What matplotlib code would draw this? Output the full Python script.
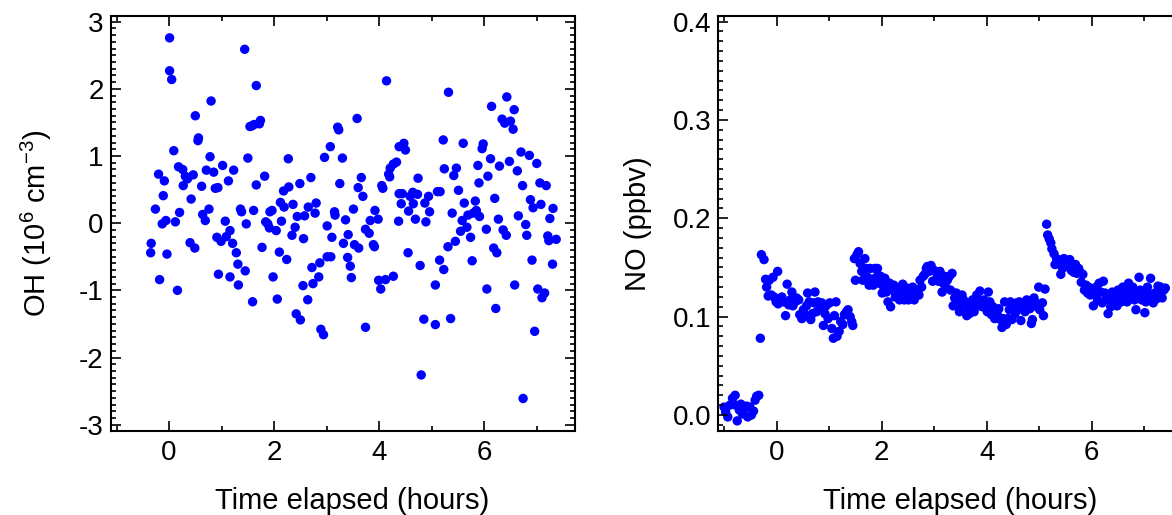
import numpy as np
import matplotlib
matplotlib.use("Agg")
import matplotlib.pyplot as plt
from matplotlib.ticker import MultipleLocator, FormatStrFormatter

plt.rcParams['font.family'] = ['Liberation Sans', 'DejaVu Sans']
plt.rcParams['mathtext.fontset'] = 'custom'
plt.rcParams['mathtext.rm'] = 'Liberation Sans'
plt.rcParams['axes.unicode_minus'] = False

# OH concentration (10^6 cm^-3) vs time elapsed (hours)
oh_time = [-0.34, -0.35, -0.26, -0.20, -0.18, -0.13, -0.11, -0.09, -0.06, -0.04,
           0.01, 0.01, 0.05, 0.09, 0.12, 0.16, 0.18, 0.20, 0.26, 0.27,
           0.31, 0.35, 0.40, 0.42, 0.46, 0.49, 0.50, 0.55, 0.56, 0.62,
           0.64, 0.69, 0.71, 0.76, 0.78, 0.80, 0.85, 0.88, 0.93, 0.91,
           0.94, 0.99, 1.02, 1.07, 1.09, 1.13, 1.16, 1.16, 1.21, 1.23,
           1.28, 1.31, 1.32, 1.36, 1.38, 1.44, 1.45, 1.47, 1.50, 1.54,
           1.58, 1.59, 1.61, 1.62, 1.66, 1.66, 1.72, 1.74, 1.77, 1.82,
           1.84, 1.88, 1.91, 1.92, 1.96, 1.98, 2.04, 2.06, 2.10, 2.12,
           2.14, 2.18, 2.19, 2.24, 2.27, 2.28, 2.34, 2.36, 2.40, 2.42,
           2.44, 2.50, 2.49, 2.56, 2.55, 2.58, 2.64, 2.65, 2.70, 2.72,
           2.74, 2.78, 2.80, 2.85, 2.87, 2.89, 2.94, 2.96, 3.01, 3.01,
           3.07, 3.08, 3.10, 3.15, 3.16, 3.21, 3.23, 3.25, 3.30, 3.32,
           3.36, 3.40, 3.41, 3.45, 3.47, 3.51, 3.53, 3.58, 3.60, 3.61,
           3.66, 3.69, 3.74, 3.74, 3.81, 3.83, 3.89, 3.91, 3.92, 3.98,
           3.99, 4.03, 4.05, 4.07, 4.12, 4.14, 4.18, 4.20, 4.21, 4.27,
           4.27, 4.33, 4.37, 4.38, 4.42, 4.38, 4.44, 4.47, 4.50, 4.55,
           4.56, 4.59, 4.64, 4.65, 4.69, 4.73, 4.74, 4.78, 4.80, 4.85,
           4.87, 4.89, 4.94, 4.96, 5.07, 5.07, 5.11, 5.16, 5.15, 5.22,
           5.24, 5.23, 5.31, 5.32, 5.36, 5.39, 5.42, 5.45, 5.47, 5.51,
           5.55, 5.58, 5.60, 5.62, 5.67, 5.69, 5.74, 5.77, 5.79, 5.83,
           5.85, 5.88, 5.90, 5.91, 5.96, 5.98, 6.04, 6.05, 6.07, 6.12,
           6.14, 6.18, 6.20, 6.22, 6.24, 6.27, 6.29, 6.34, 6.36, 6.39,
           6.42, 6.43, 6.48, 6.50, 6.55, 6.57, 6.58, 6.63, 6.65, 6.70,
           6.73, 6.74, 6.79, 6.81, 6.86, 6.88, 6.91, 6.93, 6.96, 7.00,
           7.02, 7.06, 7.08, 7.10, 7.15, 7.18, 7.21, 7.23, 7.25, 7.30,
           7.31, 7.37]
oh_conc = [-0.30, -0.44, 0.21, 0.73, -0.84, -0.01, 0.41, 0.63, 0.04, -0.46,
           2.76, 2.27, 2.14, 1.08, 0.02, -1.00, 0.84, 0.16, 0.80, 0.56,
           0.70, 0.66, -0.29, 0.36, 0.72, -0.37, 1.60, 1.23, 1.27, 0.55,
           0.13, 0.04, 0.79, 0.21, 0.99, 1.82, 0.76, 0.52, 0.53, -0.21,
           -0.76, -0.27, 0.86, 0.03, -0.20, 0.63, -0.11, -0.80, -0.30, 0.79,
           -0.44, -0.61, -0.92, 0.21, 0.17, 2.59, -0.71, -0.01, 0.97, 1.44,
           1.45, -1.17, 0.19, 1.47, 2.05, 0.57, 1.48, 1.53, -0.36, 0.70,
           0.02, -0.01, -0.07, 0.17, 0.19, -0.80, -0.11, -1.13, -0.43, 0.31,
           0.03, 0.48, 0.24, -0.54, 0.96, 0.54, -0.18, 0.28, -0.06, -1.35,
           0.10, -1.44, 0.59, -0.23, -0.93, 0.11, -1.14, 0.24, 0.68, -0.66,
           -0.90, 0.15, 0.30, -0.80, -0.59, -1.58, -1.66, 0.98, -0.04, -0.50,
           1.14, -0.50, -0.21, 0.17, 0.12, 1.43, 1.39, 0.59, 0.97, -0.30,
           0.05, -0.51, -0.17, -0.64, -0.81, 0.21, -0.32, 1.56, 0.53, -0.37,
           0.68, 0.40, -1.55, -0.09, -0.15, 0.04, -0.32, -0.35, 0.19, 0.06,
           -0.85, -0.98, 0.56, 0.52, -0.84, 2.12, 0.73, 0.69, 0.82, -0.79,
           0.88, 0.91, 0.03, 0.44, 0.29, 1.14, 0.44, 1.19, 1.09, -0.44,
           0.18, 0.40, 0.46, 0.29, 0.06, 0.43, 0.67, -0.63, -2.26, -1.43,
           0.30, 0.02, 0.40, 0.17, -0.92, -1.51, 0.47, 0.47, -0.55, 1.24,
           0.81, -0.69, -0.35, 1.95, -1.42, 0.15, 0.71, -0.27, 0.82, 0.49,
           -0.12, 0.04, 1.19, 0.30, -0.06, 0.12, -0.21, -0.56, 0.15, 0.33,
           0.19, 0.86, 0.60, 0.10, 1.11, 1.18, -0.09, -0.98, 0.70, 0.96,
           1.74, -0.37, 0.37, -1.27, -0.44, 0.06, 0.85, 1.55, -0.10, 1.49,
           -0.18, 1.88, 0.92, 1.52, 1.40, 1.69, -0.92, 0.78, 0.11, 1.06,
           0.56, -2.61, -0.02, -0.18, 1.01, 0.35, -0.55, 0.23, -1.61, 0.89,
           -0.98, 0.60, 0.28, -1.11, -1.04, 0.56, -0.19, -0.26, 0.07, -0.61,
           0.22, -0.24]

# NO mixing ratio (ppbv) vs time elapsed (hours)
no_time = [-1.00, -0.97, -0.93, -0.89, -0.84, -0.79, -0.78, -0.75, -0.71, -0.68,
           -0.65, -0.61, -0.57, -0.55, -0.51, -0.48, -0.44, -0.41, -0.38, -0.34,
           -0.31, -0.29, -0.24, -0.21, -0.19, -0.16, -0.14, -0.10, -0.07, -0.05,
           -0.01, 0.02, 0.03, 0.07, 0.10, 0.13, 0.17, 0.20, 0.23, 0.26,
           0.29, 0.31, 0.35, 0.38, 0.42, 0.44, 0.48, 0.51, 0.54, 0.57,
           0.59, 0.62, 0.65, 0.68, 0.71, 0.73, 0.76, 0.79, 0.83, 0.86,
           0.89, 0.92, 0.94, 0.98, 1.01, 1.05, 1.08, 1.10, 1.13, 1.15,
           1.19, 1.22, 1.26, 1.29, 1.33, 1.36, 1.40, 1.43, 1.45, 1.48,
           1.50, 1.53, 1.56, 1.59, 1.62, 1.64, 1.68, 1.70, 1.73, 1.76,
           1.78, 1.81, 1.84, 1.87, 1.90, 1.92, 1.95, 1.98, 2.01, 2.03,
           2.06, 2.09, 2.12, 2.15, 2.17, 2.20, 2.23, 2.26, 2.29, 2.31,
           2.34, 2.37, 2.40, 2.43, 2.45, 2.48, 2.51, 2.54, 2.57, 2.59,
           2.62, 2.65, 2.68, 2.71, 2.73, 2.76, 2.79, 2.82, 2.85, 2.87,
           2.90, 2.94, 2.97, 3.00, 3.03, 3.06, 3.08, 3.11, 3.15, 3.17,
           3.20, 3.22, 3.25, 3.29, 3.31, 3.34, 3.36, 3.39, 3.42, 3.45,
           3.48, 3.50, 3.53, 3.56, 3.59, 3.62, 3.64, 3.67, 3.70, 3.73,
           3.76, 3.78, 3.81, 3.84, 3.87, 3.90, 3.92, 3.95, 3.98, 4.01,
           4.03, 4.06, 4.09, 4.12, 4.15, 4.17, 4.20, 4.23, 4.26, 4.29,
           4.31, 4.34, 4.37, 4.40, 4.43, 4.45, 4.48, 4.51, 4.54, 4.57,
           4.59, 4.62, 4.65, 4.68, 4.71, 4.73, 4.76, 4.79, 4.82, 4.85,
           4.87, 4.90, 4.93, 4.96, 4.99, 5.01, 5.06, 5.08, 5.11, 5.14,
           5.16, 5.19, 5.22, 5.24, 5.28, 5.30, 5.33, 5.36, 5.38, 5.41,
           5.44, 5.47, 5.50, 5.52, 5.55, 5.58, 5.61, 5.64, 5.66, 5.69,
           5.72, 5.75, 5.78, 5.80, 5.83, 5.86, 5.89, 5.92, 5.94, 5.97,
           6.00, 6.03, 6.06, 6.08, 6.11, 6.14, 6.17, 6.20, 6.22, 6.25,
           6.28, 6.31, 6.34, 6.36, 6.39, 6.42, 6.45, 6.48, 6.50, 6.53,
           6.56, 6.59, 6.62, 6.64, 6.67, 6.70, 6.73, 6.76, 6.78, 6.81,
           6.84, 6.87, 6.90, 6.92, 6.95, 6.98, 7.01, 7.03, 7.06, 7.09,
           7.12, 7.15, 7.17, 7.20, 7.23, 7.26, 7.29, 7.31, 7.34, 7.37,
           7.40]
no_mix = [0.008, 0.003, -0.002, 0.010, 0.017, 0.020, 0.010, -0.006, 0.005, 0.011,
          0.001, 0.007, 0.009, -0.002, 0.008, 0.000, 0.004, 0.015, 0.019, 0.020,
          0.078, 0.163, 0.158, 0.138, 0.130, 0.121, 0.137, 0.122, 0.140, 0.120,
          0.115, 0.146, 0.113, 0.118, 0.120, 0.115, 0.101, 0.133, 0.112, 0.117,
          0.125, 0.111, 0.115, 0.119, 0.117, 0.102, 0.098, 0.107, 0.102, 0.111,
          0.124, 0.115, 0.097, 0.103, 0.114, 0.125, 0.105, 0.115, 0.108, 0.114,
          0.091, 0.103, 0.111, 0.098, 0.114, 0.088, 0.078, 0.101, 0.115, 0.080,
          0.085, 0.095, 0.092, 0.102, 0.105, 0.107, 0.100, 0.095, 0.091, 0.159,
          0.137, 0.163, 0.166, 0.154, 0.146, 0.137, 0.159, 0.149, 0.140, 0.132,
          0.149, 0.138, 0.132, 0.149, 0.140, 0.149, 0.134, 0.141, 0.124, 0.131,
          0.139, 0.125, 0.115, 0.134, 0.110, 0.127, 0.132, 0.120, 0.124, 0.128,
          0.117, 0.126, 0.133, 0.117, 0.124, 0.129, 0.117, 0.124, 0.122, 0.130,
          0.117, 0.124, 0.127, 0.122, 0.137, 0.130, 0.141, 0.143, 0.149, 0.151,
          0.146, 0.152, 0.136, 0.147, 0.137, 0.142, 0.136, 0.146, 0.125, 0.134,
          0.141, 0.130, 0.137, 0.141, 0.127, 0.144, 0.111, 0.119, 0.124, 0.115,
          0.105, 0.112, 0.122, 0.117, 0.112, 0.101, 0.108, 0.103, 0.112, 0.117,
          0.105, 0.113, 0.122, 0.111, 0.126, 0.115, 0.110, 0.117, 0.112, 0.105,
          0.125, 0.115, 0.102, 0.110, 0.098, 0.105, 0.102, 0.108, 0.097, 0.089,
          0.098, 0.115, 0.092, 0.098, 0.107, 0.115, 0.097, 0.111, 0.103, 0.114,
          0.107, 0.115, 0.096, 0.108, 0.114, 0.105, 0.117, 0.112, 0.108, 0.093,
          0.097, 0.119, 0.114, 0.110, 0.130, 0.107, 0.114, 0.101, 0.128, 0.194,
          0.183, 0.179, 0.175, 0.169, 0.164, 0.153, 0.159, 0.158, 0.154, 0.143,
          0.149, 0.159, 0.154, 0.157, 0.151, 0.158, 0.147, 0.152, 0.145, 0.153,
          0.144, 0.149, 0.145, 0.135, 0.143, 0.127, 0.132, 0.124, 0.130, 0.122,
          0.127, 0.111, 0.122, 0.130, 0.117, 0.134, 0.125, 0.114, 0.136, 0.124,
          0.119, 0.103, 0.117, 0.110, 0.125, 0.115, 0.122, 0.111, 0.127, 0.119,
          0.115, 0.130, 0.122, 0.128, 0.115, 0.134, 0.125, 0.120, 0.130, 0.117,
          0.107, 0.122, 0.140, 0.127, 0.117, 0.122, 0.104, 0.115, 0.130, 0.123,
          0.139, 0.120, 0.114, 0.124, 0.118, 0.131, 0.125, 0.130, 0.119, 0.127,
          0.129]

fig = plt.figure(figsize=(11.72, 5.15), dpi=100)
ax1 = fig.add_axes([0.0945, 0.1637, 0.3962, 0.8058])
ax2 = fig.add_axes([0.6129, 0.1637, 0.3962, 0.8058])

for ax in (ax1, ax2):
    for sp in ax.spines.values():
        sp.set_linewidth(1.5)
    ax.tick_params(which='both', direction='in', top=True, right=True,
                   width=1.2, labelsize=20)
    ax.tick_params(which='major', length=7.5)
    ax.tick_params(which='minor', length=3.8)
    ax.tick_params(axis='x', pad=7)
    ax.tick_params(axis='y', pad=5)
    ax.xaxis.set_major_locator(MultipleLocator(2))
    ax.xaxis.set_minor_locator(MultipleLocator(1))
    ax.set_xlim(-1.11, 7.73)
    ax.set_xlabel('Time elapsed (hours)', fontsize=21, labelpad=13)
    ax.xaxis.set_label_coords(0.52, -0.135)

ax1.scatter(oh_time, oh_conc, s=46, color='#0000ff', edgecolors='none')
ax1.set_ylim(-3.09, 3.09)
ax1.yaxis.set_major_locator(MultipleLocator(1))
ax1.yaxis.set_minor_locator(MultipleLocator(0.1))
ax1.set_ylabel('OH (10$^\\mathregular{6}$ cm$^\\mathregular{-3}$)', fontsize=21, labelpad=18)

ax2.scatter(no_time, no_mix, s=46, color='#0000ff', edgecolors='none')
ax2.set_ylim(-0.016, 0.406)
ax2.yaxis.set_major_locator(MultipleLocator(0.1))
ax2.yaxis.set_minor_locator(MultipleLocator(0.01))
ax2.yaxis.set_major_formatter(FormatStrFormatter('%.1f'))
ax2.set_ylabel('NO (ppbv)', fontsize=21, labelpad=15)

fig.savefig('out.png', dpi=100)
